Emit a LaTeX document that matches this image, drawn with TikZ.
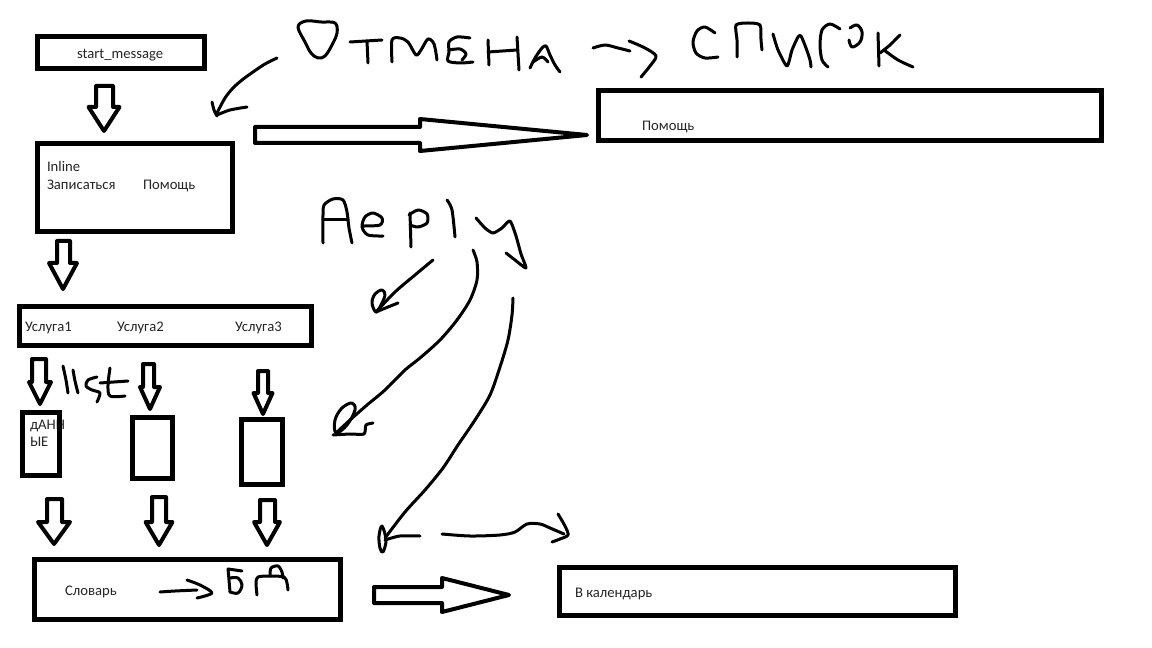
\documentclass[tikz,border=0pt]{standalone}
\usepackage{fontspec}
\setmainfont{Carlito}
\usetikzlibrary{calc}
\begin{document}
\begin{tikzpicture}[x=0.75pt,y=-0.75pt,
  box/.style={draw, line width=3.75pt, inner sep=0pt, outer sep=0pt},
  lbl/.style={anchor=base west, inner sep=0pt, outer sep=0pt, text=black!85, font=\fontsize{11}{13}\selectfont},
  blk/.style={draw, line width=3pt, line join=round},
  hand/.style={line width=2.25pt, line cap=round, line join=round},
  bdown/.style args={#1/#2/#3}{to path={let \p1=(\tikztostart), \p2=(\tikztotarget) in
     (\x1-#1*0.75pt,\y1) -- (\x1+#1*0.75pt,\y1) -- (\x1+#1*0.75pt,\y2+#3*0.75pt)
     -- (\x2+#2*0.75pt,\y2+#3*0.75pt) -- (\x2,\y2) -- (\x2-#2*0.75pt,\y2+#3*0.75pt)
     -- (\x1-#1*0.75pt,\y2+#3*0.75pt) -- cycle}},
  bright/.style args={#1/#2/#3}{to path={let \p1=(\tikztostart), \p2=(\tikztotarget) in
     (\x1,\y1+#1*0.75pt) -- (\x2-#3*0.75pt,\y1+#1*0.75pt) -- (\x2-#3*0.75pt,\y2+#2*0.75pt)
     -- (\x2,\y2) -- (\x2-#3*0.75pt,\y2-#2*0.75pt) -- (\x2-#3*0.75pt,\y1-#1*0.75pt)
     -- (\x1,\y1-#1*0.75pt) -- cycle}}
]
\useasboundingbox (0,0) rectangle (1152,648);
\fill[white] (0,0) rectangle (1152,648);

% ---------- texts ----------
\node[lbl] (t-sm) at (77,59) {start\_message};
\node[lbl] (t-inline) at (47,172) {Inline};
\node[lbl] (t-zap) at (47,190) {Записаться};
\node[lbl] (t-pom1) at (143,190) {Помощь};
\node[lbl] (t-pom2) at (642,131) {Помощь};
\node[lbl] (t-u1) at (25,332) {Услуга1};
\node[lbl] (t-u2) at (117,332) {Услуга2};
\node[lbl] (t-u3) at (235,332) {Услуга3};
\node[lbl] (t-dan1) at (30,429) {дАНН};
\node[lbl] (t-dan2) at (30,446) {ЫЕ};
\node[lbl] (t-slov) at (65,595) {Словарь};
\node[lbl] (t-cal) at (575,597) {В календарь};

% ---------- boxes ----------
\node[box, minimum width=167*0.75pt, minimum height=32*0.75pt] (sm) at (121,52.5) {};
\node[box, minimum width=195*0.75pt, minimum height=88*0.75pt] (inl) at (135,187.5) {};
\node[box, minimum width=503*0.75pt, minimum height=50*0.75pt] (help) at (850,115.5) {};
\node[box, minimum width=292*0.75pt, minimum height=39*0.75pt] (serv) at (165.5,326) {};
\node[box, minimum width=37*0.75pt, minimum height=63*0.75pt] (b1) at (41,444) {};
\node[box, minimum width=40*0.75pt, minimum height=61*0.75pt] (b2) at (152.5,448) {};
\node[box, minimum width=41*0.75pt, minimum height=65*0.75pt] (b3) at (262,452) {};
\node[box, minimum width=306*0.75pt, minimum height=60*0.75pt] (dict) at (187.5,589.5) {};
\node[box, minimum width=396*0.75pt, minimum height=48*0.75pt] (cal) at (757.5,591.5) {};

% ---------- block arrow ends ----------
\coordinate (d0s) at (104.5,86);  \coordinate (d0e) at (104,131);
\coordinate (d1s) at (63.5,241);  \coordinate (d1e) at (63,289);
\coordinate (s1s) at (39,359);    \coordinate (s1e) at (40,404);
\coordinate (s2s) at (148.5,364); \coordinate (s2e) at (150,409);
\coordinate (s3s) at (263,371);   \coordinate (s3e) at (263,414);
\coordinate (t1s) at (54.5,499);  \coordinate (t1e) at (54,544);
\coordinate (t2s) at (159,497);   \coordinate (t2e) at (159,545);
\coordinate (t3s) at (267.5,500); \coordinate (t3e) at (267,545);
\coordinate (h1s) at (255,135);   \coordinate (h1e) at (587,135);
\coordinate (h2s) at (374,595);   \coordinate (h2e) at (509,595);

\draw[blk] (d0s) to[bdown=8.5/15.5/24] (d0e);
\draw[blk] (d1s) to[bdown=6.5/14/26] (d1e);
\draw[blk] (s1s) to[bdown=7/11/22] (s1e);
\draw[blk] (s2s) to[bdown=5.5/10/22] (s2e);
\draw[blk] (s3s) to[bdown=5/9.5/21] (s3e);
\draw[blk] (t1s) to[bdown=7.5/16/22] (t1e);
\draw[blk] (t2s) to[bdown=7/13.5/23] (t2e);
\draw[blk] (t3s) to[bdown=7.5/13/23] (t3e);
\draw[blk] (h1s) to[bright=8/16/167] (h1e);
\draw[blk] (h2s) to[bright=8/17/67] (h2e);

% ---------- handwriting: "Отмена -> список" ----------
\draw[hand] plot[smooth cycle, tension=0.6] coordinates {(298,27) (306,21) (321,22) (335,23) (337,33) (332,45) (325,56) (318,58) (311,53) (305,42)};
\draw[hand] (350,42) -- (382,40);
\draw[hand] (367,41) -- (368,63);
\draw[hand] plot[smooth, tension=0.5] coordinates {(392,62) (392,40) (400,38) (408,42) (416,55) (421,50) (428,39) (434,44) (437,60)};
\draw[hand] plot[smooth, tension=0.5] coordinates {(470,38) (457,37) (449,42) (449,52) (448,61) (460,63) (473,62)};
\draw[hand] plot[smooth, tension=0.5] coordinates {(449,50) (460,49) (466,54) (462,60)};
\draw[hand] (488,40) -- (489,65);
\draw[hand] (517,37) -- (519,70);
\draw[hand] (488,52) -- (517,50);
\draw[hand] plot[smooth, tension=0.5] coordinates {(530,68) (535,58) (542,48) (546,46) (550,55) (555,65) (560,72)};
\draw[hand] plot[smooth, tension=0.5] coordinates {(533,62) (542,57) (548,62)};
\draw[hand] plot[smooth, tension=0.5] coordinates {(593,48) (605,45) (618,48) (630,51)};
\draw[hand] plot[smooth, tension=0.5] coordinates {(629,41) (645,48) (656,56) (650,66) (641,77)};
\draw[hand] plot[smooth, tension=0.5] coordinates {(715,33) (705,27) (697,31) (693,42) (696,53) (705,58) (718,57)};
\draw[hand] plot[smooth, tension=0.4] coordinates {(737,57) (737,40) (736,25) (748,23) (760,25) (761,40) (762,50)};
\draw[hand] plot[smooth, tension=0.4] coordinates {(773,34) (778,50) (787,66) (792,50) (798,37) (801,36) (806,48) (810,60) (811,67)};
\draw[hand] plot[smooth, tension=0.5] coordinates {(840,29) (830,24) (822,30) (820,45) (822,60) (828,67)};
\draw[hand] plot[smooth, tension=0.6] coordinates {(850,28) (857,25) (862,32) (860,42) (852,47) (849,40)};
\draw[hand] (878,33) -- (879,66);
\draw[hand] plot[smooth, tension=0.5] coordinates {(900,35) (890,45) (880,53)};
\draw[hand] plot[smooth, tension=0.5] coordinates {(884,50) (898,60) (913,67)};
% arrow Отмена -> Inline
\draw[hand] plot[smooth, tension=0.5] coordinates {(277,58) (265,64) (253,72) (242,80) (233,88) (225,98) (217,113)};
\draw[hand] plot[smooth, tension=0.5] coordinates {(212,102) (214,110) (217,116)};
\draw[hand] plot[smooth, tension=0.5] coordinates {(217,115) (230,110) (247,107)};

% ---------- handwriting: "Reply" ----------
\draw[hand] plot[smooth, tension=0.5] coordinates {(323,243) (323,215) (324,205) (333,199) (343,200) (347,212) (349,228) (352,243)};
\draw[hand] (323,220) -- (348,220);
\draw[hand] plot[smooth, tension=0.5] coordinates {(364,226) (380,225) (382,218) (373,213) (365,217) (362,227) (368,235) (383,236)};
\draw[hand] (410,213) -- (411,247);
\draw[hand] plot[smooth, tension=0.5] coordinates {(409,215) (418,210) (427,214) (427,223) (418,227) (410,225)};
\draw[hand] plot[smooth, tension=0.5] coordinates {(447,200) (452,210) (455,237)};
\draw[hand] plot[smooth, tension=0.4] coordinates {(476,218) (485,228) (493,233) (502,228) (510,221) (516,236) (521,254) (526,268) (515,260) (506,253)};
% Reply arrows
\draw[hand] plot[smooth, tension=0.5] coordinates {(433,260) (415,275) (395,292) (376,312)};
\draw[hand] plot[smooth cycle, tension=0.6] coordinates {(376,312) (372,303) (375,294) (382,290) (385,295) (381,305)};
\draw[hand] plot[smooth, tension=0.5] coordinates {(376,312) (388,307) (398,303)};
\draw[hand] plot[smooth, tension=0.5] coordinates {(473,250) (477,262) (477,280) (470,300) (457,320) (440,340) (420,358) (405,370) (385,390) (367,405) (350,420) (336,433)};
\draw[hand] plot[smooth cycle, tension=0.6] coordinates {(336,433) (335,420) (342,408) (352,403) (355,410) (347,425)};
\draw[hand] plot[smooth, tension=0.4] coordinates {(333,435) (350,434) (364,434) (366,425) (373,423)};
\draw[hand] plot[smooth, tension=0.5] coordinates {(513,298) (512,315) (508,340) (500,367) (490,395) (475,420) (458,445) (443,468) (425,490) (405,512) (385,538)};
\draw[hand] plot[smooth cycle, tension=0.6] coordinates {(382,526) (379,536) (380,548) (383,552) (386,540)};
\draw[hand] plot[smooth, tension=0.5] coordinates {(385,540) (400,536) (420,536)};
\draw[hand] plot[smooth, tension=0.5] coordinates {(442,534) (470,536) (500,535) (515,532) (527,524) (540,524) (550,528) (564,534)};
\draw[hand] plot[smooth, tension=0.5] coordinates {(558,514) (565,526) (568,535) (560,539) (552,542)};

% ---------- handwriting: "list" ----------
\draw[hand] plot[smooth, tension=0.5] coordinates {(63,366) (66,380) (68,393)};
\draw[hand] plot[smooth, tension=0.5] coordinates {(73,370) (75,381) (78,393)};
\draw[hand] plot[smooth, tension=0.5] coordinates {(97,377) (88,380) (86,386) (92,390) (100,393) (97,402)};
\draw[hand] plot[smooth, tension=0.5] coordinates {(110,368) (108,385) (110,396) (125,396)};
\draw[hand] (100,383) -- (128,381);

% ---------- handwriting: "-> БД" ----------
\draw[hand] plot[smooth, tension=0.5] coordinates {(160,592) (175,591) (197,590)};
\draw[hand] plot[smooth, tension=0.5] coordinates {(187,580) (200,585) (212,593) (197,598)};
\draw[hand] (228,569) -- (242,571);
\draw[hand] plot[smooth, tension=0.5] coordinates {(228,569) (229,580) (230,592)};
\draw[hand] plot[smooth, tension=0.6] coordinates {(230,578) (238,578) (242,585) (238,593) (230,592)};
\draw[hand] plot[smooth, tension=0.5] coordinates {(257,595) (256,583) (258,577) (270,576) (284,577) (287,583) (288,590)};
\draw[hand] plot[smooth, tension=0.5] coordinates {(270,576) (271,568) (278,566) (282,572) (283,578)};
\end{tikzpicture}
\end{document}
